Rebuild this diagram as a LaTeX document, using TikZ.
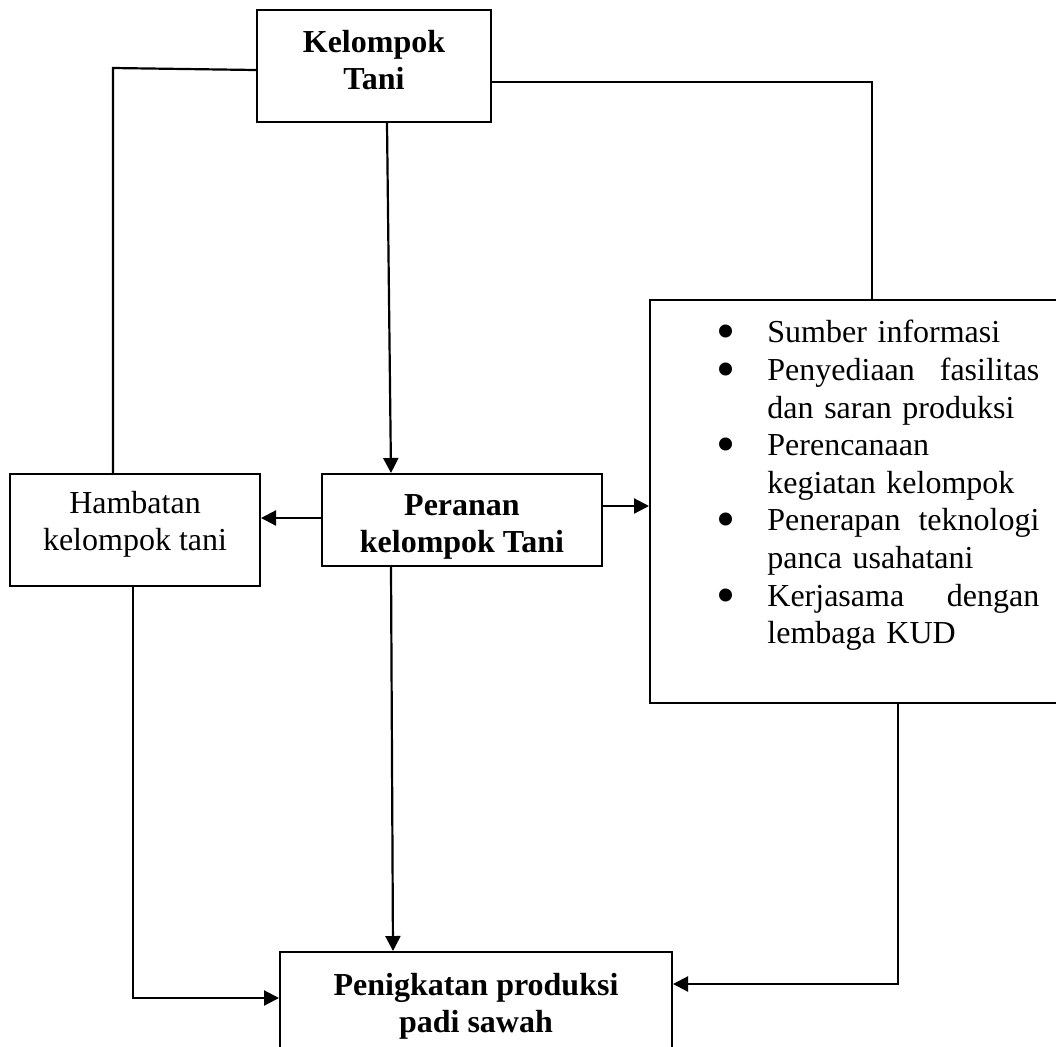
\documentclass[tikz,border=0pt]{standalone}
\usepackage{fontspec}
\setmainfont{Liberation Serif}
\usetikzlibrary{arrows.meta}
\newcommand{\listdot}{\leavevmode\llap{\smash{\raisebox{-3.5pt}{\scalebox{1.7}{\textbullet}}}\hspace{15.75pt}}}

\begin{document}
\begin{tikzpicture}[x=0.5pt,y=-0.5pt,
    box/.style ={draw, line width=1pt, align=center, font=\fontsize{16}{18.6}\selectfont},
    boldbox/.style ={box, font=\fontsize{16}{18.6}\selectfont\bfseries},
    link/.style ={line width=1.1pt},
    arr/.style ={link, -{Triangle[length=7.5pt,width=7.5pt]}}]
   \useasboundingbox (0,0) rectangle (1056,1046);
   \clip (0,0) rectangle (1056,1046);

   \node[boldbox, minimum width=117pt, minimum height=56pt] (KT) at (374,66) {Kelompok\\Tani\rule[-6pt]{0pt}{0pt}};
   \node[boldbox, minimum width=140pt, minimum height=46pt] (PR) at (462,520) {\rule{0pt}{17pt}Peranan\\kelompok Tani};
   \node[box, minimum width=125pt, minimum height=56pt] (HB) at (135,530) {Hambatan\\kelompok tani\rule[-9pt]{0pt}{0pt}};
   \node[box, minimum width=210pt, minimum height=201.5pt] (listbox) at (860,501.5) {};
   \node[anchor=north west, inner sep=0pt, text width=136pt, align=left,
         font=\fontsize{16}{18.8}\selectfont] (listtext) at (767,320) {%
     \listdot Sumber informasi\\
     \listdot Penyediaan\hfill fasilitas\\
     dan saran produksi\\
     \listdot Perencanaan\\
     kegiatan kelompok\\
     \listdot Penerapan\hfill teknologi\\
     panca usahatani\\
     \listdot Kerjasama\hfill dengan\\
     lembaga KUD};
   \node[boldbox, minimum width=196pt, minimum height=54pt] (PS) at (476,1006) {Penigkatan produksi\\padi sawah};

   \coordinate (kt-l) at (113,68);
   \coordinate (hb-b) at (133,998);
   \coordinate (lb-b) at (898,984);

   \draw[link] ([yshift=-2pt]KT.west) -- (kt-l) -- (kt-l |- HB.north);
   \draw[link] ([yshift=-8pt]KT.east) -| ([xshift=6pt]listbox.north);
   \draw[arr] ([xshift=6.5pt]KT.south) -- ([xshift=-35.5pt]PR.north);
   \draw[arr] ([yshift=1pt]PR.west) -- ([yshift=1pt]PR.west -| HB.east);
   \draw[arr] ([yshift=7pt]PR.east) -- ([yshift=7pt]PR.east -| listbox.west);
   \draw[arr] ([xshift=-35.5pt]PR.south) -- ([xshift=-41.5pt]PS.north);
   \draw[arr] ([xshift=-1pt]HB.south) -- (hb-b) -- (hb-b -| PS.west);
   \draw[arr] (listbox.south -| lb-b) -- (lb-b) -- (lb-b -| PS.east);
\end{tikzpicture}
\end{document}
